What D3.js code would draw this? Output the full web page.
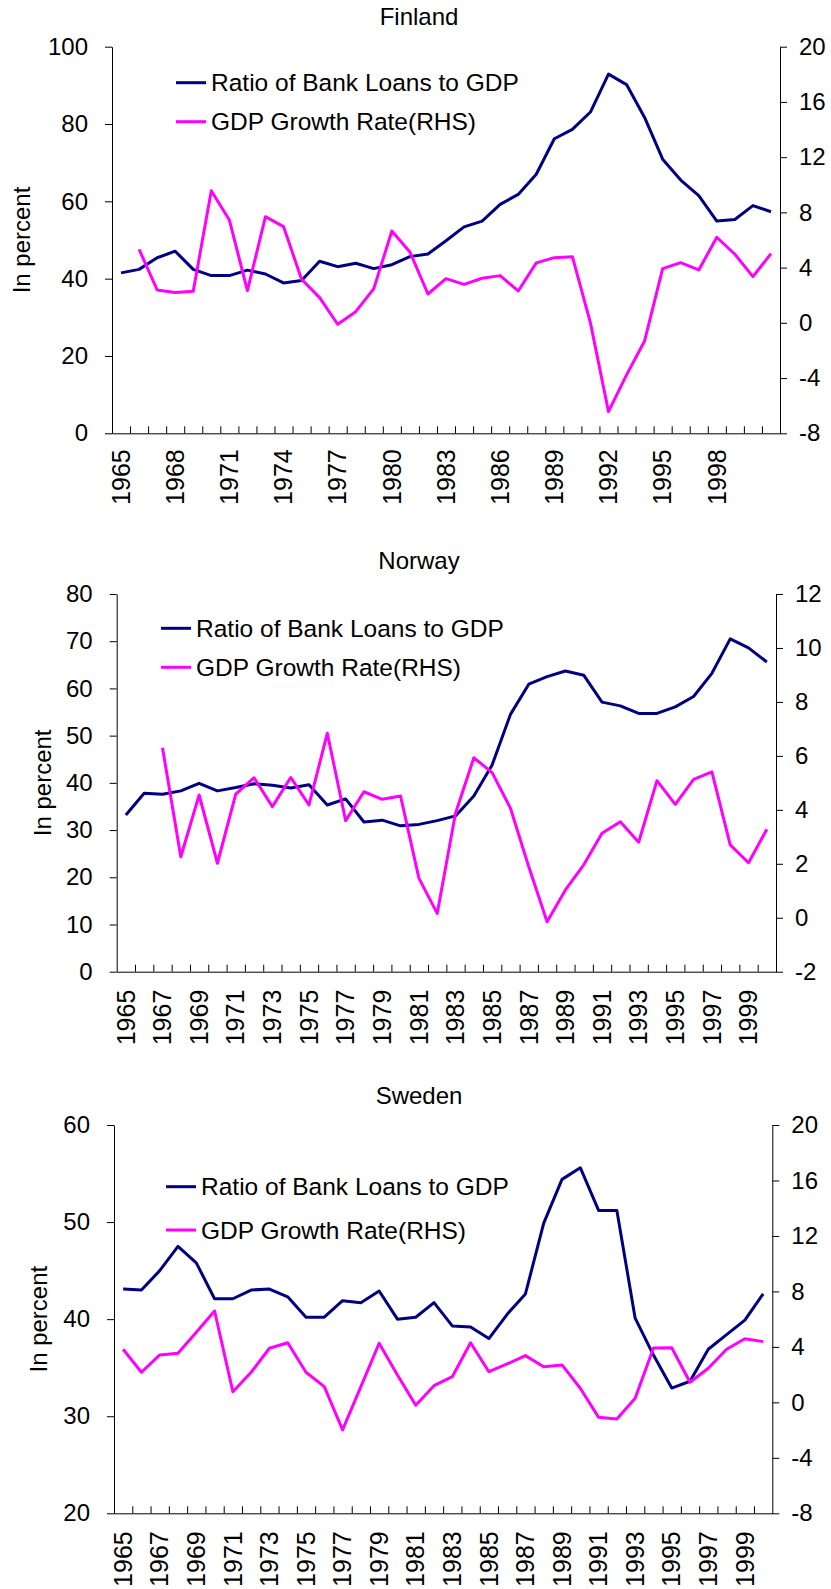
<!DOCTYPE html>
<html>
<head>
<meta charset="utf-8">
<script src="https://cdnjs.cloudflare.com/ajax/libs/d3/7.8.5/d3.min.js"></script>
<style>
  body { margin: 0; background: #fff; }
  svg text { font-family: "Liberation Sans", Arial, sans-serif; fill: #000; }
</style>
</head>
<body>
<div id="chart"></div>
<script>

// years on the category axes
var yearsFinland = d3.range(1965, 2002);
var yearsNordic = d3.range(1965, 2001);

// tick labels
var labelsFinland = [1965, 1968, 1971, 1974, 1977, 1980, 1983, 1986, 1989, 1992, 1995, 1998];
var labelsNordic = [1965, 1967, 1969, 1971, 1973, 1975, 1977, 1979, 1981, 1983, 1985, 1987, 1989, 1991, 1993, 1995, 1997, 1999];
var ticksFinlandLeft = [0, 20, 40, 60, 80, 100];
var ticksFinlandRight = [-8, -4, 0, 4, 8, 12, 16, 20];
var ticksNorwayLeft = [0, 10, 20, 30, 40, 50, 60, 70, 80];
var ticksNorwayRight = [-2, 0, 2, 4, 6, 8, 10, 12];
var ticksSwedenLeft = [20, 30, 40, 50, 60];
var ticksSwedenRight = [-8, -4, 0, 4, 8, 12, 16, 20];

// Finland 1965-2001
var finlandLoans = [41.5, 42.4, 45.4, 47.1, 42.4, 40.8, 40.8, 42.2, 41.2, 38.9,
    39.5, 44.5, 43.1, 44.0, 42.6, 43.6, 45.7, 46.4, 49.8, 53.4,
    54.9, 59.2, 61.8, 67.0, 76.2, 78.6, 83.1, 92.9, 90.2, 81.7,
    70.9, 65.5, 61.5, 54.9, 55.3, 58.9, 57.3];
var finlandGrowth = [null, 5.33, 2.38, 2.19, 2.29, 9.57, 7.45, 2.33, 7.69, 6.97,
    3.16, 1.83, -0.10, 0.81, 2.48, 6.65, 5.13, 2.09, 3.20, 2.79,
    3.23, 3.42, 2.31, 4.34, 4.72, 4.79, 0.0, -6.43, -3.77, -1.31,
    3.93, 4.36, 3.83, 6.20, 4.97, 3.35, 5.01];

// Norway 1965-2000
var norwayLoans = [33.2, 37.8, 37.6, 38.3, 39.9, 38.3, 39.0, 39.8, 39.5, 38.9,
    39.6, 35.3, 36.6, 31.7, 32.1, 30.9, 31.2, 32.0, 33.0, 37.2,
    43.8, 54.5, 60.9, 62.5, 63.7, 62.8, 57.1, 56.3, 54.7, 54.7,
    56.1, 58.3, 63.2, 70.5, 68.6, 65.6];
var norwayGrowth = [null, null, 6.30, 2.26, 4.55, 2.02, 4.58, 5.19, 4.12, 5.20,
    4.18, 6.84, 3.60, 4.67, 4.39, 4.51, 1.47, 0.16, 3.87, 5.93,
    5.38, 4.06, 1.89, -0.15, 1.03, 1.96, 3.13, 3.56, 2.80, 5.08,
    4.20, 5.13, 5.41, 2.70, 2.04, 3.28];

// Sweden 1965-2000
var swedenLoans = [43.1, 43.0, 45.0, 47.5, 45.8, 42.1, 42.1, 43.0, 43.1, 42.3,
    40.2, 40.2, 41.9, 41.7, 42.9, 40.0, 40.2, 41.7, 39.3, 39.2,
    38.0, 40.5, 42.6, 49.9, 54.4, 55.6, 51.2, 51.2, 40.1, 36.3,
    32.9, 33.6, 36.9, 38.4, 39.9, 42.6];
var swedenGrowth = [3.83, 2.17, 3.42, 3.54, 5.05, 6.59, 0.77, 2.17, 3.90, 4.30,
    2.17, 1.13, -1.99, 1.13, 4.26, 1.98, -0.21, 1.20, 1.85, 4.30,
    2.21, 2.77, 3.37, 2.57, 2.70, 1.02, -1.08, -1.20, 0.29, 3.92,
    3.94, 1.45, 2.46, 3.83, 4.59, 4.38];

var seriesNames = ["Ratio of Bank Loans to GDP", "GDP Growth Rate(RHS)"];
var seriesColors = ["#000080", "#ff00ff"];

var svg = d3.select("#chart").append("svg")
    .attr("width", 831)
    .attr("height", 1589);

// plain hyphen for negatives, like the original
var plainFormat = function(d){ return String(d); };

DualAxisChart = function(_svg, _opts){
    this.svg = _svg;
    this.opts = _opts;
    this.initVis();
};

DualAxisChart.prototype.initVis = function(){
    var vis = this;
    var o = vis.opts;

    vis.g = vis.svg.append("g");

    vis.x = d3.scaleBand().domain(o.years).range([o.left, o.right]);
    vis.yL = d3.scaleLinear().domain(d3.extent(o.leftTicks)).range([o.bottom, o.top]);
    vis.yR = d3.scaleLinear().domain(d3.extent(o.rightTicks)).range([o.bottom, o.top]);

    // title
    vis.g.append("text")
        .attr("x", 419)
        .attr("y", o.titleY)
        .attr("text-anchor", "middle")
        .attr("font-size", 24)
        .text(o.title);

    // y axis label
    vis.g.append("text")
        .attr("transform", "translate(" + o.yLabelX + "," + (o.top + o.bottom) / 2 + ") rotate(-90)")
        .attr("text-anchor", "middle")
        .attr("dy", "0.35em")
        .attr("font-size", 24)
        .text("In percent");

    vis.drawAxes();
    vis.drawLines();
    vis.drawLegend();
};

DualAxisChart.prototype.drawAxes = function(){
    var vis = this;
    var o = vis.opts;
    var n = o.years.length;

    var left = vis.g.append("g")
        .attr("transform", "translate(" + o.left + ",0)")
        .call(d3.axisLeft(vis.yL).tickValues(o.leftTicks).tickFormat(plainFormat)
            .tickSize(7).tickSizeOuter(0).tickPadding(17));

    var right = vis.g.append("g")
        .attr("transform", "translate(" + o.right + ",0)")
        .call(d3.axisRight(vis.yR).tickValues(o.rightTicks).tickFormat(plainFormat)
            .tickSize(7).tickSizeOuter(0).tickPadding(12));

    // category boundaries: tick marks pointing into the plot
    var edge = d3.scaleLinear().domain([0, n]).range([o.left, o.right]);
    var bottom = vis.g.append("g")
        .attr("transform", "translate(0," + o.bottom + ")")
        .call(d3.axisTop(edge).tickValues(d3.range(1, n)).tickSize(7).tickSizeOuter(0).tickFormat(""));

    var labels = vis.g.append("g")
        .attr("transform", "translate(0," + o.bottom + ")")
        .call(d3.axisBottom(vis.x).tickValues(o.labels).tickSize(0).tickSizeOuter(0));
    labels.select(".domain").remove();
    labels.selectAll("text")
        .attr("transform", "rotate(-90)")
        .attr("x", -o.labelGap)
        .attr("y", 0)
        .attr("dy", "0.35em")
        .style("text-anchor", "end")
        .attr("font-size", 25);

    [left, right].forEach(function(a){
        a.selectAll("text").attr("font-size", 24);
    });
    [left, right, bottom].forEach(function(a){
        a.selectAll("path, line").attr("stroke", "#000");
    });
};

DualAxisChart.prototype.drawLines = function(){
    var vis = this;
    var o = vis.opts;
    var half = vis.x.bandwidth() / 2;

    var lineL = d3.line()
        .defined(function(d){ return d.v !== null; })
        .x(function(d){ return vis.x(d.year) + half; })
        .y(function(d){ return vis.yL(d.v); });

    var lineR = d3.line()
        .defined(function(d){ return d.v !== null; })
        .x(function(d){ return vis.x(d.year) + half; })
        .y(function(d){ return vis.yR(d.v); });

    var loans = o.years.map(function(y, i){ return { year: y, v: o.loans[i] }; });
    var growth = o.years.map(function(y, i){ return { year: y, v: o.growth[i] }; });

    vis.g.append("path")
        .datum(loans)
        .attr("fill", "none")
        .attr("stroke", seriesColors[0])
        .attr("stroke-width", 3)
        .attr("stroke-linejoin", "round")
        .attr("d", lineL);

    vis.g.append("path")
        .datum(growth)
        .attr("fill", "none")
        .attr("stroke", seriesColors[1])
        .attr("stroke-width", 3)
        .attr("stroke-linejoin", "round")
        .attr("d", lineR);
};

DualAxisChart.prototype.drawLegend = function(){
    var vis = this;
    var o = vis.opts;

    var items = vis.g.selectAll(".legend")
        .data(seriesNames)
        .enter().append("g")
        .attr("class", "legend")
        .attr("transform", function(d, i){ return "translate(" + o.legendX + "," + o.legendY[i] + ")"; });

    items.append("line")
        .attr("x1", 0).attr("x2", 30)
        .attr("stroke-width", 3)
        .attr("stroke", function(d, i){ return seriesColors[i]; });

    items.append("text")
        .attr("x", 35)
        .attr("dy", "0.35em")
        .attr("font-size", 24.5)
        .text(function(d){ return d; });
};

new DualAxisChart(svg, {
    title: "Finland", titleY: 25, yLabelX: 22,
    left: 112, right: 780, top: 46.7, bottom: 433.3,
    years: yearsFinland, labels: labelsFinland, labelGap: 16,
    leftTicks: ticksFinlandLeft, rightTicks: ticksFinlandRight,
    loans: finlandLoans, growth: finlandGrowth,
    legendX: 176, legendY: [82.7, 121.7]
});

new DualAxisChart(svg, {
    title: "Norway", titleY: 569, yLabelX: 43,
    left: 116.7, right: 776, top: 594, bottom: 971.7,
    years: yearsNordic, labels: labelsNordic, labelGap: 18,
    leftTicks: ticksNorwayLeft, rightTicks: ticksNorwayRight,
    loans: norwayLoans, growth: norwayGrowth,
    legendX: 161, legendY: [628.3, 667.3]
});

new DualAxisChart(svg, {
    title: "Sweden", titleY: 1103.5, yLabelX: 39,
    left: 114, right: 772.3, top: 1125, bottom: 1513.3,
    years: yearsNordic, labels: labelsNordic, labelGap: 18,
    leftTicks: ticksSwedenLeft, rightTicks: ticksSwedenRight,
    loans: swedenLoans, growth: swedenGrowth,
    legendX: 166, legendY: [1186.7, 1230]
});

</script>
</body>
</html>
